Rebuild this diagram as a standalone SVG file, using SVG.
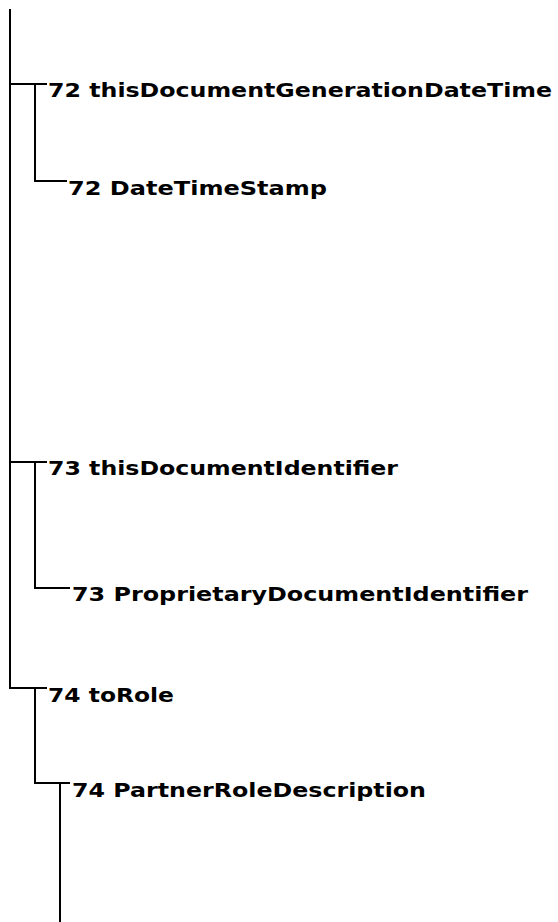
<svg xmlns="http://www.w3.org/2000/svg" width="558" height="922" viewBox="0 0 558 922">
<style>
.ln{stroke:#000;stroke-width:2;fill:none;stroke-linecap:butt}
.t{font-family:"DejaVu Sans",Verdana,sans-serif;font-weight:bold;font-size:19.5px;fill:#000}
</style>
<rect width="558" height="922" fill="#fff"/>
<g id="connectors">
<path class="ln" d="M10,9 V689"/>
<path class="ln" d="M10,84 H47 M35,84 V182 M35,181 H67"/>
<path class="ln" d="M10,462 H47 M35,462 V589 M35,588 H70"/>
<path class="ln" d="M10,688 H47 M35,688 V784 M35,783 H70 M60,783 V922"/>
</g>
<g id="n72a"><text class="t" x="48" y="97" textLength="504" lengthAdjust="spacingAndGlyphs">72 thisDocumentGenerationDateTime</text></g>
<g id="n72b"><text class="t" x="68" y="195" textLength="259" lengthAdjust="spacingAndGlyphs">72 DateTimeStamp</text></g>
<g id="n73a"><text class="t" x="48" y="475" textLength="350" lengthAdjust="spacingAndGlyphs">73 thisDocumentIdentifier</text></g>
<g id="n73b"><text class="t" x="72" y="601" textLength="456" lengthAdjust="spacingAndGlyphs">73 ProprietaryDocumentIdentifier</text></g>
<g id="n74a"><text class="t" x="48" y="702" textLength="126" lengthAdjust="spacingAndGlyphs">74 toRole</text></g>
<g id="n74b"><text class="t" x="72" y="797" textLength="354" lengthAdjust="spacingAndGlyphs">74 PartnerRoleDescription</text></g>
</svg>
